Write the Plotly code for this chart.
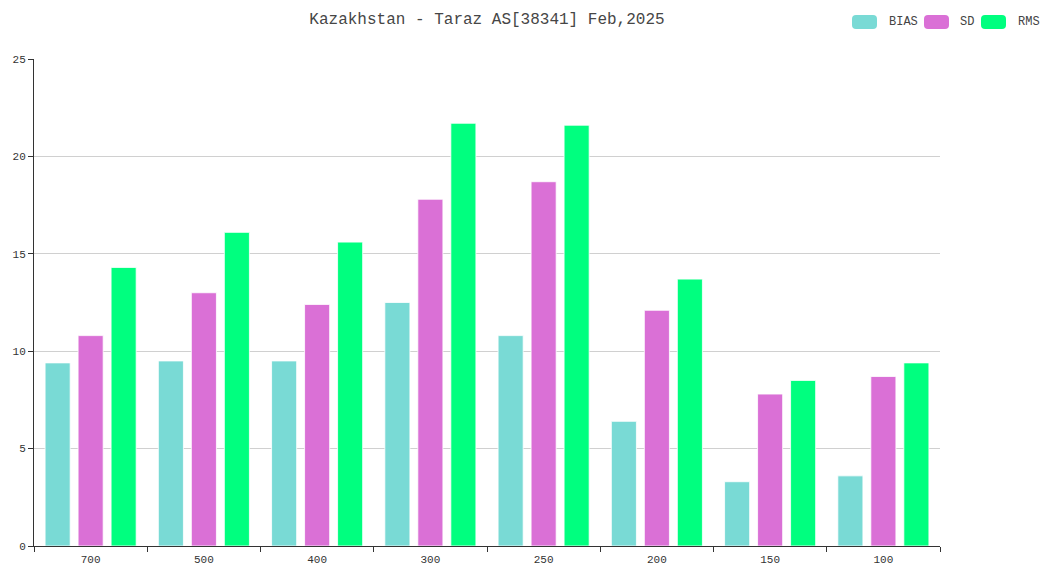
import plotly.graph_objects as go

categories = ["700", "500", "400", "300", "250", "200", "150", "100"]
bias = [9.4, 9.5, 9.5, 12.5, 10.8, 6.4, 3.3, 3.6]
sd = [10.8, 13.0, 12.4, 17.8, 18.7, 12.1, 7.8, 8.7]
rms = [14.3, 16.1, 15.6, 21.7, 21.6, 13.7, 8.5, 9.4]
series_names = ["BIAS", "SD", "RMS"]
colors = ["#79DAD5", "#DA70D6", "#00FF7F"]

FONT = "Liberation Mono, DejaVu Sans Mono, monospace"

W, H = 1048, 568
L, T = 34, 59
R = W - 940
B = H - 546
PW, PH = W - L - R, H - T - B

fig = go.Figure()
for name, vals, c in zip(series_names, [bias, sd, rms], colors):
    fig.add_trace(go.Bar(
        x=categories, y=vals, name=name, showlegend=False,
        marker=dict(color=c, line=dict(color="rgba(255,255,255,0.8)", width=1)),
    ))

# custom legend with rounded swatches (screen px positions)
def px2x(px):
    return (px - L) / PW

def py2y(py):
    return (H - B - py) / PH

legend_pos = [(852, 887), (924, 958), (981, 1016)]
shapes = []
annotations = []
for (sx, tx), name, c in zip(legend_pos, series_names, colors):
    x0, x1 = px2x(sx), px2x(sx + 25)
    y0, y1 = py2y(29), py2y(15)
    rx, ry = 4 / PW, 4 / PH
    path = (f"M {x0+rx},{y0} L {x1-rx},{y0} Q {x1},{y0} {x1},{y0+ry} "
            f"L {x1},{y1-ry} Q {x1},{y1} {x1-rx},{y1} L {x0+rx},{y1} "
            f"Q {x0},{y1} {x0},{y1-ry} L {x0},{y0+ry} Q {x0},{y0} {x0+rx},{y0} Z")
    shapes.append(dict(type="path", path=path, xref="paper", yref="paper",
                       fillcolor=c, line=dict(width=0)))
    annotations.append(dict(text=name, x=px2x(tx), y=py2y(22), xref="paper", yref="paper",
                            xanchor="left", yanchor="middle", showarrow=False,
                            font=dict(family=FONT, size=12, color="#444")))

fig.update_layout(
    width=W, height=H,
    paper_bgcolor="white", plot_bgcolor="white",
    margin=dict(l=L, r=R, t=T, b=B, autoexpand=False),
    barmode="group", bargap=0.126, bargroupgap=0.24,
    title=dict(text="Kazakhstan - Taraz AS[38341] Feb,2025", x=0.5, xref="paper",
               xanchor="center", y=1 - 18 / H, yref="container", yanchor="middle",
               font=dict(family=FONT, size=16, color="#464646")),
    font=dict(family=FONT, size=11, color="#333"),
    showlegend=False,
    shapes=shapes,
    annotations=annotations,
    xaxis=dict(type="category", showline=True, linecolor="#333", linewidth=1,
               ticks="outside", tickson="boundaries", ticklen=5, tickcolor="#333",
               showgrid=False, automargin=False, ticklabelstandoff=3,
               tickfont=dict(size=11, color="#333")),
    yaxis=dict(range=[0, 25], dtick=5, showline=True, linecolor="#333", linewidth=1,
               ticks="outside", ticklen=5, tickcolor="#333", automargin=False,
               showgrid=True, gridcolor="#d0d0d0", gridwidth=1, zeroline=False,
               tickfont=dict(size=11, color="#333")),
)

fig.write_html("out.html", config={"displayModeBar": False},
               post_script="document.body.style.margin='0';document.body.style.overflow='hidden';")
